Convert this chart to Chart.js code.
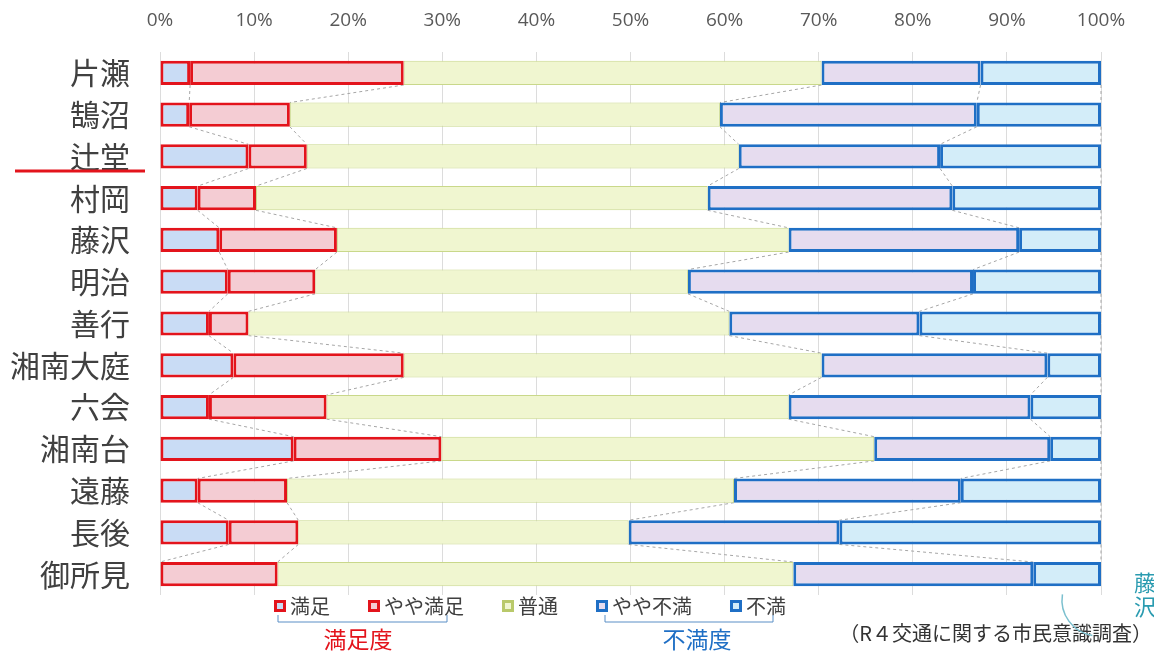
<!DOCTYPE html>
<html>
<head>
<meta charset="utf-8">
<script src="https://cdn.jsdelivr.net/npm/chart.js@4.4.0/dist/chart.umd.min.js"></script>
<style>
  body { margin: 0; background: #fff; }
  #wrap { position: relative; width: 1154px; height: 652px; }
</style>
</head>
<body>
<div id="wrap"><canvas id="chart"></canvas></div>
<script>
// 地区名
const areas = ["片瀬", "鵠沼", "辻堂", "村岡", "藤沢", "明治", "善行", "湘南大庭", "六会", "湘南台", "遠藤", "長後", "御所見"];

// 割合 (%)
const manzoku     = [3.2, 3.1, 9.4, 4.0, 6.3, 7.2, 5.2, 7.8, 5.2, 14.2, 4.0, 7.3, 0];
const yayaManzoku = [22.7, 10.7, 6.2, 6.2, 12.5, 9.3, 4.2, 18.1, 12.5, 15.7, 9.5, 7.4, 12.5];
const futsu       = [44.4, 45.7, 45.9, 48.0, 48.0, 39.6, 51.1, 44.4, 49.1, 46.0, 47.5, 35.1, 54.8];
const yayaFuman   = [16.9, 27.3, 21.4, 26.0, 24.5, 30.3, 20.2, 24.0, 25.7, 18.7, 24.1, 22.4, 25.5];
const fuman       = [12.8, 13.2, 17.1, 15.8, 8.7, 13.6, 19.3, 5.7, 7.5, 5.4, 14.9, 27.8, 7.2];

const seriesNames = ["満足", "やや満足", "普通", "やや不満", "不満"];
const xTicks = [0, 10, 20, 30, 40, 50, 60, 70, 80, 90, 100];

const RED = "#e3141c";
const BLUE = "#1f6fc5";
const JP = "'Noto Sans CJK JP', 'Noto Sans', sans-serif";

const fills = ["#c9dcf5", "#f4ccd3", "#f0f6d0", "#e6dcef", "#d3edf9"];
const borders = [RED, RED, "#c9d88a", BLUE, BLUE];
const widths = [3, 3, 1, 3, 3];

const values = [manzoku, yayaManzoku, futsu, yayaFuman, fuman];

const datasets = values.map((arr, k) => ({
  label: seriesNames[k],
  data: arr,
  backgroundColor: fills[k],
  borderColor: borders[k],
  borderWidth: ctx => (ctx.raw === 0 ? 0 : widths[k]),
  borderSkipped: false,
  categoryPercentage: 1,
  barPercentage: 0.58
}));

// 系列線 (点線)
const seriesLines = {
  id: "seriesLines",
  beforeDatasetsDraw(chart) {
    const c = chart.ctx;
    c.save();
    c.strokeStyle = "#a6a6a6";
    c.lineWidth = 1;
    c.setLineDash([3, 3]);
    for (let k = 0; k < chart.data.datasets.length; k++) {
      const els = chart.getDatasetMeta(k).data;
      for (let i = 0; i < els.length - 1; i++) {
        const a = els[i], b = els[i + 1];
        c.beginPath();
        c.moveTo(a.x, a.y + a.height / 2);
        c.lineTo(b.x, b.y - b.height / 2);
        c.stroke();
      }
    }
    c.restore();
  }
};

// 凡例・注記
const extras = {
  id: "extras",
  afterDraw(chart) {
    const c = chart.ctx;
    c.save();

    // 辻堂 の下線
    c.strokeStyle = RED;
    c.lineWidth = 3;
    c.beginPath();
    c.moveTo(15, 171);
    c.lineTo(145, 171);
    c.stroke();

    // 凡例
    c.font = "20px " + JP;
    c.textBaseline = "middle";
    let x = 274;
    const ly = 606;
    chart.data.datasets.forEach((ds, k) => {
      c.fillStyle = fills[k];
      c.fillRect(x, ly - 6, 12, 12);
      c.strokeStyle = k === 2 ? "#b9c96a" : borders[k];
      c.lineWidth = 3;
      c.strokeRect(x + 1.5, ly - 4.5, 9, 9);
      c.fillStyle = "#404040";
      c.textAlign = "left";
      c.fillText(ds.label, x + 16, ly);
      x += 16 + c.measureText(ds.label).width + 38;
    });

    // 括弧
    c.strokeStyle = "#5a8fc6";
    c.lineWidth = 1;
    [[278, 447], [605, 773]].forEach(([x1, x2]) => {
      c.beginPath();
      c.moveTo(x1, 615);
      c.lineTo(x1, 622);
      c.lineTo(x2, 622);
      c.lineTo(x2, 615);
      c.stroke();
    });
    c.font = "23px " + JP;
    c.textAlign = "center";
    c.fillStyle = RED;
    c.fillText("満足度", 358, 639);
    c.fillStyle = BLUE;
    c.fillText("不満度", 697, 639);

    // 出典
    c.font = "20px " + JP;
    c.textAlign = "right";
    c.fillStyle = "#333333";
    c.fillText("（R４交通に関する市民意識調査）", 1152, 633);

    // ロゴ (一部)
    c.font = "22px " + JP;
    c.textAlign = "left";
    c.fillStyle = "#2a9bb0";
    c.fillText("藤", 1134, 583);
    c.fillText("沢", 1134, 607);
    c.strokeStyle = "#7cc0cf";
    c.lineWidth = 1.5;
    c.beginPath();
    c.arc(1098, 600, 36, 0.55 * Math.PI, 1.05 * Math.PI);
    c.stroke();
    c.restore();
  }
};

new Chart(document.getElementById("chart"), {
  type: "bar",
  data: { labels: areas, datasets: datasets },
  options: {
    indexAxis: "y",
    responsive: true,
    maintainAspectRatio: false,
    animation: false,
    layout: { padding: { top: 0, right: 53, bottom: 57, left: 0 } },
    plugins: {
      legend: { display: false },
      tooltip: { enabled: false }
    },
    scales: {
      x: {
        position: "top",
        stacked: true,
        min: 0,
        max: 100,
        afterBuildTicks: scale => { scale.ticks = xTicks.map(v => ({ value: v })); },
        afterFit: scale => { scale.height = 52; },
        ticks: {
          callback: v => v + "%",
          color: "#595959",
          font: { family: "'Open Sans', sans-serif", size: 19 },
          padding: 20
        },
        grid: { color: "#dcdcdc", drawTicks: false },
        border: { display: false }
      },
      y: {
        stacked: true,
        afterFit: scale => { scale.width = 160; },
        ticks: {
          color: "#404040",
          font: { family: JP, size: 30 },
          padding: 30
        },
        grid: { display: false, drawTicks: false },
        border: { display: false }
      }
    }
  },
  plugins: [seriesLines, extras]
});
</script>
</body>
</html>
